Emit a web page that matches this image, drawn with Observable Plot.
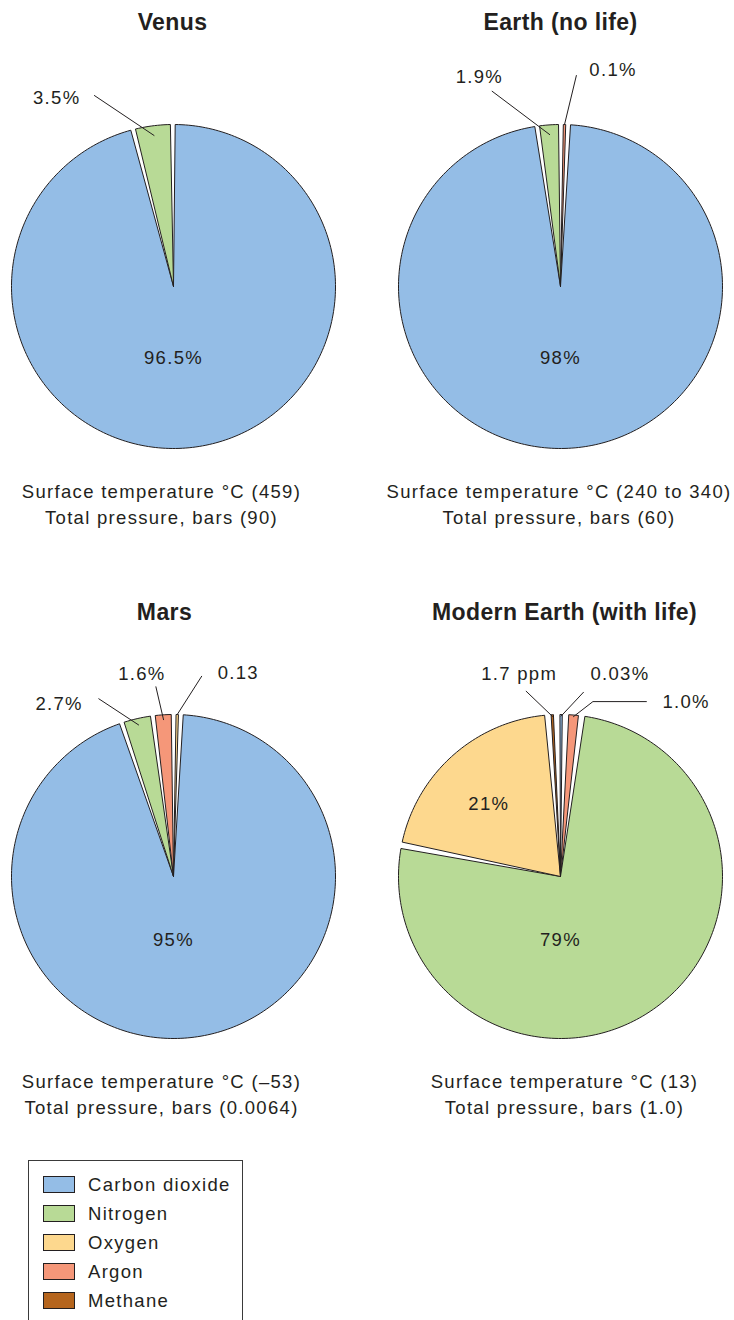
<!DOCTYPE html>
<html>
<head>
<meta charset="utf-8">
<script src="https://cdn.jsdelivr.net/npm/d3@7"></script>
<script src="https://cdn.jsdelivr.net/npm/@observablehq/plot@0.6"></script>
<style>
  html, body { margin: 0; padding: 0; background: #fff; overflow: hidden; }
  #root { position: relative; width: 734px; height: 1320px; font-family: "Liberation Sans", Arial, sans-serif; color: #231f20; }
  .panel { position: absolute; }
  .legend { position: absolute; left: 28px; top: 1160px; width: 215px; height: 200px; border: 1px solid #3a3a3a; box-sizing: border-box; }
  .sw { position: absolute; left: 14px; width: 32px; height: 17px; border: 1px solid #231f20; box-sizing: border-box; }
  .lt { position: absolute; left: 59px; height: 17px; line-height: 17px; font-size: 18.5px; letter-spacing: 1.3px; white-space: nowrap; }
</style>
</head>
<body>
<div id="root"></div>
<script>
// ---------------- data ----------------
const gases = ["Carbon dioxide", "Nitrogen", "Oxygen", "Argon", "Methane"];
const gasColors = ["#94bde6", "#b8da96", "#fdd88e", "#f59779", "#b5651d"];

const planets = ["Venus", "Earth (no life)", "Mars", "Modern Earth (with life)"];
const temperatures = ["459", "240 to 340", "\u201353", "13"];
const pressures = ["90", "60", "0.0064", "1.0"];

// slices listed clockwise, starting just right of 12 o'clock
const venusGases = ["Carbon dioxide", "Nitrogen"];
const venusPercents = [96.5, 3.5];
const venusLabels = ["96.5%", "3.5%"];

const earthGases = ["Argon", "Carbon dioxide", "Nitrogen"];
const earthPercents = [0.1, 98, 1.9];
const earthLabels = ["0.1%", "98%", "1.9%"];

const marsGases = ["Oxygen", "Carbon dioxide", "Nitrogen", "Argon"];
const marsPercents = [0.13, 95, 2.7, 1.6];
const marsLabels = ["0.13", "95%", "2.7%", "1.6%"];

const modernGases = ["Carbon dioxide", "Argon", "Nitrogen", "Oxygen", "Methane"];
const modernPercents = [0.03, 1.0, 79, 21, 0.00017];
const modernLabels = ["0.03%", "1.0%", "79%", "21%", "1.7 ppm"];

// ---------------- layout (not data) ----------------
const R = 162;            // pie radius in px
const MIN_SHARE = 0.24;   // smallest drawn share (percent) for trace gases
const panelLayout = [
  {left: 0,   top: 0,   start: 0.6,  gap: 1.7, titleDx: -1, captionDx: -12},
  {left: 387, top: 0,   start: 1.0,  gap: 1.7, titleDx: 0,  captionDx: -1.5},
  {left: 0,   top: 590, start: 0.9,  gap: 1.7, titleDx: -9, captionDx: -12},
  {left: 387, top: 590, start: -0.2, gap: 2.3, titleDx: 4,  captionDx: 4}
];
// label placement: inside (polar) or leader line (inner radius, elbow polar, px text offset)
const labelLayout = [
  {"Carbon dioxide": {inside: true, angle: 180, r: 0.44},
   "Nitrogen": {rIn: 0.94, angle: -22.5, r: 1.276, anchor: "end", dx: -14, dy: 3}},
  {"Carbon dioxide": {inside: true, angle: 180, r: 0.44},
   "Nitrogen": {rIn: 0.94, angle: -19.3, r: 1.277, anchor: "end", dx: 11, dy: -14},
   "Argon": {rIn: 1.0, angle: 4.3, r: 1.306, anchor: "start", dx: 13, dy: -5}},
  {"Carbon dioxide": {inside: true, angle: 180, r: 0.39},
   "Nitrogen": {rIn: 0.96, angle: -22.8, r: 1.19, anchor: "end", dx: -16, dy: 5},
   "Argon": {rIn: 0.97, angle: -5.3, r: 1.176, anchor: "middle", dx: -14, dy: -13},
   "Oxygen": {rIn: 1.0, angle: 8, r: 1.248, anchor: "start", dx: 16, dy: -3}},
  {"Nitrogen": {inside: true, angle: 180, r: 0.395},
   "Oxygen": {inside: true, angle: 315.4, r: 0.63},
   "Methane": {rIn: 0.99, angle: -10.5, r: 1.163, anchor: "middle", dx: -7, dy: -17},
   "Carbon dioxide": {rIn: 0.99, angle: 7.1, r: 1.146, anchor: "start", dx: 7, dy: -18},
   "Argon": {rIn: 0.99, angle: 10.5, r: 1.098, tail: 0.33, anchor: "start", dx: 16, dy: 0}}
];

const composition = [
  [venusGases, venusPercents, venusLabels],
  [earthGases, earthPercents, earthLabels],
  [marsGases, marsPercents, marsLabels],
  [modernGases, modernPercents, modernLabels]
];

const rad = d => d * Math.PI / 180;
const polar = (deg, r) => ({x: r * Math.sin(rad(deg)), y: r * Math.cos(rad(deg))});

function layoutSlices(names, values, labels, startDeg, gap) {
  const shares = values.map(v => Math.max(v, MIN_SHARE));
  const total = d3.sum(shares);
  const avail = 360 - gap * names.length;
  let a = startDeg;
  return names.map((g, i) => {
    const span = shares[i] / total * avail;
    const s = {gas: g, value: values[i], label: labels[i], a0: a, a1: a + span};
    a += span + gap;
    return s;
  });
}

const root = document.getElementById("root");
const FONT = "Liberation Sans, Arial, Helvetica, sans-serif";

planets.forEach((planet, p) => {
  const [names, values, labels] = composition[p];
  const lay = panelLayout[p];
  const slices = layoutSlices(names, values, labels, lay.start, lay.gap);

  // wedge polygons
  const wedgePts = [];
  slices.forEach((s, i) => {
    const n = Math.max(2, Math.ceil((s.a1 - s.a0) / 1.2));
    wedgePts.push({id: i, gas: s.gas, x: 0, y: 0});
    for (let k = 0; k <= n; k++) {
      const pt = polar(s.a0 + (s.a1 - s.a0) * k / n, 1);
      wedgePts.push({id: i, gas: s.gas, ...pt});
    }
    wedgePts.push({id: i, gas: s.gas, x: 0, y: 0});
  });

  // labels and leaders
  const leaderPts = [];
  const textRows = [];
  slices.forEach((s, i) => {
    const L = labelLayout[p][s.gas];
    if (!L) return;
    if (L.inside) {
      const pt = polar(L.angle, L.r);
      textRows.push({text: s.label, x: pt.x, y: pt.y, anchor: "middle"});
    } else {
      const mid = (s.a0 + s.a1) / 2;
      const pin = polar(mid, L.rIn);
      const el = polar(L.angle, L.r);
      leaderPts.push({id: i, ...pin}, {id: i, ...el});
      let end = el;
      if (L.tail) {
        end = {x: el.x + L.tail, y: el.y};
        leaderPts.push({id: i, ...end});
      }
      textRows.push({text: s.label, x: end.x + L.dx / R, y: end.y - L.dy / R, anchor: L.anchor});
    }
  });

  const W = 346, H = 560, cx = 173, cy = 286;
  const chart = Plot.plot({
    width: W,
    height: H,
    margin: 0,
    style: {fontFamily: FONT, overflow: "visible", color: "#231f20", background: "transparent"},
    x: {domain: [-1, 1], range: [cx - R, cx + R], axis: null},
    y: {domain: [-1, 1], range: [cy + R, cy - R], axis: null},
    color: {type: "ordinal", domain: gases, range: gasColors},
    marks: [
      Plot.line(wedgePts, {x: "x", y: "y", z: "id", fill: "gas", stroke: "#231f20", strokeWidth: 1, strokeLinejoin: "round", curve: "linear"}),
      Plot.line(leaderPts, {x: "x", y: "y", z: "id", stroke: "#231f20", strokeWidth: 1}),
      ...["start", "middle", "end"].map(a =>
        Plot.text(textRows.filter(d => d.anchor === a), {x: "x", y: "y", text: "text", textAnchor: a, fontSize: 18.5, fill: "#231f20"})
      ),
      Plot.text([planet], {text: d => d, frameAnchor: "top", dx: lay.titleDx, dy: 22, lineAnchor: "middle", fontSize: 23, fontWeight: "bold", fill: "#231f20"}),
      Plot.text(["Surface temperature \u00b0C (" + temperatures[p] + ")"], {text: d => d, frameAnchor: "top", dx: lay.captionDx, dy: 492, lineAnchor: "middle", fontSize: 18.5, fill: "#231f20"}),
      Plot.text(["Total pressure, bars (" + pressures[p] + ")"], {text: d => d, frameAnchor: "top", dx: lay.captionDx, dy: 518, lineAnchor: "middle", fontSize: 18.5, fill: "#231f20"})
    ]
  });
  // regular text is letter-spaced like the original lettering; bold titles are nearly tight
  d3.select(chart).selectAll("text").style("letter-spacing", "1.3px");
  d3.select(chart).selectAll("g").filter(function() { return this.getAttribute("font-weight") === "bold"; })
    .selectAll("text").style("letter-spacing", "0.4px");
  const div = document.createElement("div");
  div.className = "panel";
  div.style.left = lay.left + "px";
  div.style.top = lay.top + "px";
  div.appendChild(chart);
  root.appendChild(div);
});

// legend
const legend = document.createElement("div");
legend.className = "legend";
gases.forEach((g, i) => {
  const sw = document.createElement("div");
  sw.className = "sw";
  sw.style.top = (15 + i * 29) + "px";
  sw.style.background = gasColors[i];
  const lt = document.createElement("div");
  lt.className = "lt";
  lt.style.top = (15 + i * 29) + "px";
  lt.textContent = g;
  legend.appendChild(sw);
  legend.appendChild(lt);
});
root.appendChild(legend);
</script>
</body>
</html>
